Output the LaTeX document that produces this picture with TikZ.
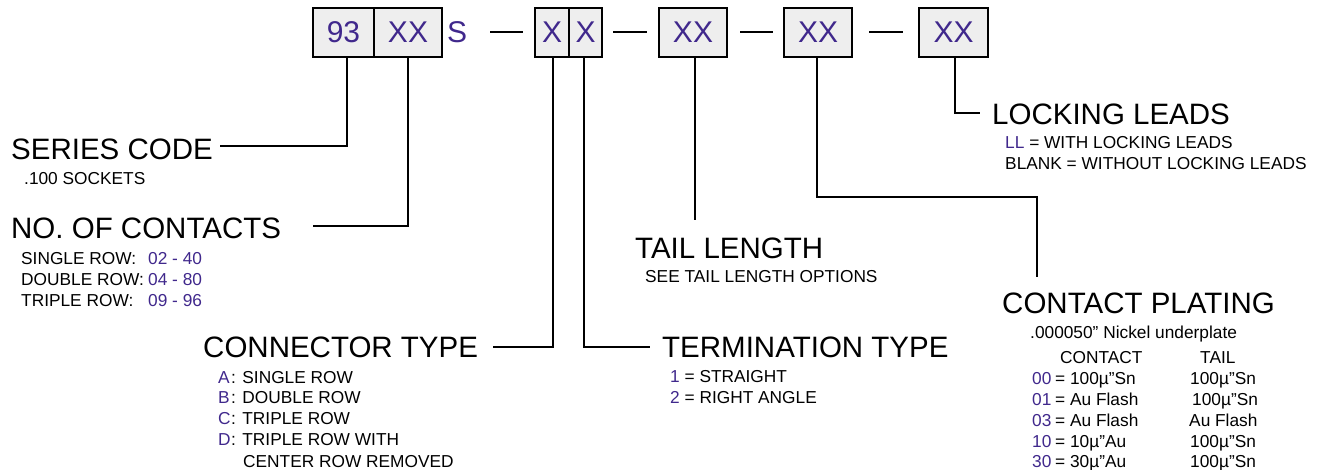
\documentclass[tikz,border=0pt]{standalone}
\usepackage{fontspec}
\setmainfont{Liberation Sans}
\definecolor{pc}{RGB}{64,40,140}
\definecolor{boxgray}{RGB}{238,238,238}
\begin{document}
\begin{tikzpicture}[x=1pt,y=-1pt,
  hd/.style={anchor=base west, inner sep=0pt, font=\fontsize{29.5}{30}\selectfont},
  sm/.style={anchor=base west, inner sep=0pt, font=\fontsize{17.3}{18}\selectfont},
  smc/.style={sm, text=pc},
  codebox/.style={draw, line width=1.6pt, fill=boxgray, minimum height=49pt, inner sep=0pt, text=pc, font=\fontsize{30}{30}\selectfont},
  ln/.style={line width=1.5pt}]
\useasboundingbox (0,0) rectangle (1325,470);
% boxes
\node[codebox, minimum width=61pt] (b93) at (343.5,32.5) {93};
\node[codebox, minimum width=68pt] (bXX) at (408,32.5) {XX};
\node[inner sep=0pt, text=pc, font=\fontsize{30}{30}\selectfont] (sS) at (457,32.5) {S};
\node[codebox, minimum width=34pt] (bX1) at (552,32.5) {X};
\node[codebox, minimum width=33pt] (bX2) at (585.5,32.5) {X};
\node[codebox, minimum width=68pt] (bT) at (693,32.5) {XX};
\node[codebox, minimum width=68pt] (bC) at (818,32.5) {XX};
\node[codebox, minimum width=69pt] (bL) at (953.5,32.5) {XX};
% dashes
\coordinate (d1a) at (490,32); \coordinate (d1b) at (523,32);
\coordinate (d2a) at (613,32); \coordinate (d2b) at (647,32);
\coordinate (d3a) at (740,32); \coordinate (d3b) at (773,32);
\coordinate (d4a) at (869,32); \coordinate (d4b) at (903,32);
\draw[ln] (d1a) -- (d1b);
\draw[ln] (d2a) -- (d2b);
\draw[ln] (d3a) -- (d3b);
\draw[ln] (d4a) -- (d4b);
% connector end points
\coordinate (scEnd) at (220,146);
\coordinate (ncEnd) at (313,226);
\coordinate (ctEnd) at (493,347);
\coordinate (ttEnd) at (650,347);
\coordinate (tlEnd) at (695,220);
\coordinate (cpCorner) at (1037,197);
\coordinate (cpEnd) at (1037,277);
\coordinate (llEnd) at (980,113);
\draw[ln] ([xshift=3.5pt]b93.south) |- (scEnd);
\draw[ln] (bXX.south) |- (ncEnd);
\draw[ln] ([xshift=1pt]bX1.south) |- (ctEnd);
\draw[ln] ([xshift=-1.5pt]bX2.south) |- (ttEnd);
\draw[ln] ([xshift=2pt]bT.south) -- (tlEnd);
\draw[ln] ([xshift=-1pt]bC.south) |- (cpCorner) -- (cpEnd);
\draw[ln] ([xshift=1.5pt]bL.south) |- (llEnd);
% series code
\node[hd] (sc) at (11,160) {SERIES CODE};
\node[sm] (sc1) at (24,185) {.100 SOCKETS};
% no of contacts
\node[hd] (nc) at (11,239) {NO. OF CONTACTS};
\node[sm] (nc1) at (21,265) {SINGLE ROW:};
\node[sm] (nc2) at (21,286) {DOUBLE ROW:};
\node[sm] (nc3) at (21,306) {TRIPLE ROW:};
\node[smc] (nc1v) at (148,265) {02 - 40};
\node[smc] (nc2v) at (148,286) {04 - 80};
\node[smc] (nc3v) at (148,306) {09 - 96};
% connector type
\node[hd] (ct) at (203,357) {CONNECTOR TYPE};
\node[smc] (ctA) at (218,383) {A};
\node[smc] (ctB) at (218,403) {B};
\node[smc] (ctC) at (218,424) {C};
\node[smc] (ctD) at (218,445) {D};
\node[sm] (ctA1) at (231,383) {: SINGLE ROW};
\node[sm] (ctB1) at (231,403) {: DOUBLE ROW};
\node[sm] (ctC1) at (231,424) {: TRIPLE ROW};
\node[sm] (ctD1) at (231,445) {: TRIPLE ROW WITH};
\node[sm] (ctD2) at (243,467) {CENTER ROW REMOVED};
% termination type
\node[hd] (tt) at (662,357) {TERMINATION TYPE};
\node[sm] (tt1) at (670,382) {\textcolor{pc}{1} = STRAIGHT};
\node[sm] (tt2) at (670,403) {\textcolor{pc}{2} = RIGHT ANGLE};
% tail length
\node[hd] (tl) at (635,259) {TAIL LENGTH};
\node[sm] (tl1) at (645,283) {SEE TAIL LENGTH OPTIONS};
% contact plating
\node[hd] (cp) at (1002,313) {CONTACT PLATING};
\node[sm] (cp0) at (1030,338) {.000050” Nickel underplate};
\node[sm] (cpH1) at (1060,363) {CONTACT};
\node[sm] (cpH2) at (1200,363) {TAIL};
\node[smc] (c00) at (1032,384) {00};
\node[smc] (c01) at (1032,405) {01};
\node[smc] (c03) at (1032,426) {03};
\node[smc] (c10) at (1032,447) {10};
\node[smc] (c30) at (1032,467) {30};
\node[sm] (c00a) at (1055,384) {= 100µ”Sn};
\node[sm] (c01a) at (1055,405) {= Au Flash};
\node[sm] (c03a) at (1055,426) {= Au Flash};
\node[sm] (c10a) at (1055,447) {= 10µ”Au};
\node[sm] (c30a) at (1055,467) {= 30µ”Au};
\node[sm] (c00b) at (1190,384) {100µ”Sn};
\node[sm] (c01b) at (1192,405) {100µ”Sn};
\node[sm] (c03b) at (1189,426) {Au Flash};
\node[sm] (c10b) at (1190,447) {100µ”Sn};
\node[sm] (c30b) at (1190,467) {100µ”Sn};
% locking leads
\node[hd] (ll) at (992,125) {LOCKING LEADS};
\node[sm] (ll1) at (1005,149) {\textcolor{pc}{LL} = WITH LOCKING LEADS};
\node[sm] (ll2) at (1005,170) {BLANK = WITHOUT LOCKING LEADS};
\end{tikzpicture}
\end{document}
